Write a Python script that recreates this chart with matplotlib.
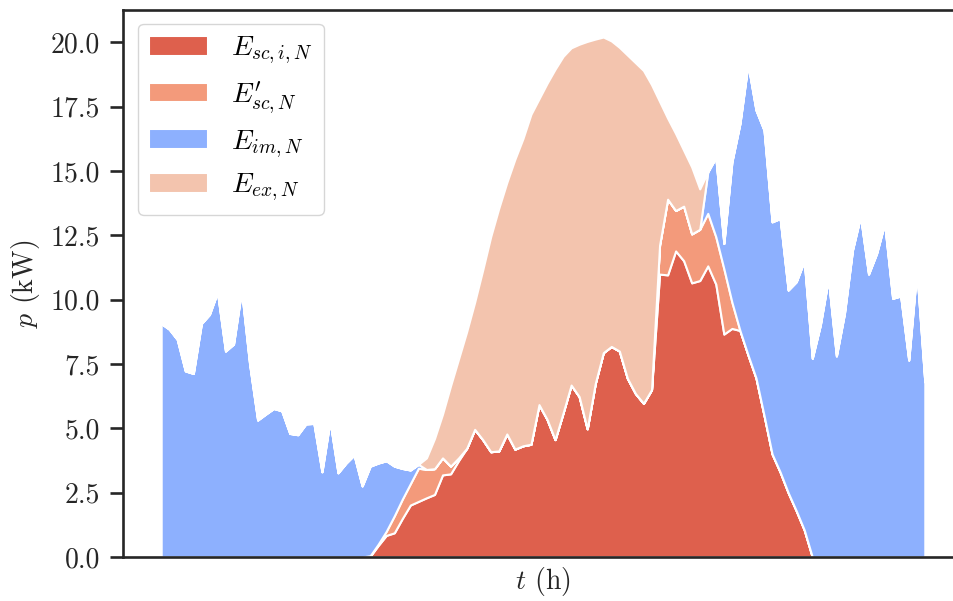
import numpy as np
import matplotlib
matplotlib.use("Agg")
import matplotlib.pyplot as plt
from matplotlib.ticker import FormatStrFormatter, MultipleLocator

plt.rcParams.update({
    "font.family": "serif",
    "font.serif": ["cmr10"],
    "mathtext.fontset": "cm",
    "axes.formatter.use_mathtext": True,
    "axes.unicode_minus": False,
})

# 15-minute resolution over one day
t = np.arange(96) * 0.25

# household load (kW)
load = [
    9.07, 8.85, 8.45, 7.23, 7.13, 9.07, 9.42, 10.29, 8.00, 8.27,
    10.36, 7.50, 5.32, 5.55, 5.77, 5.68, 4.80, 4.75, 5.17, 5.19,
    3.31, 5.29, 3.27, 3.65, 3.96, 2.76, 3.53, 3.65, 3.74, 3.53,
    3.44, 3.38, 3.60, 3.40, 3.43, 3.85, 3.53, 3.85, 4.22, 4.96,
    4.56, 4.09, 4.12, 4.78, 4.19, 4.32, 4.38, 5.92, 5.35, 4.56,
    5.60, 6.68, 6.23, 4.98, 6.74, 7.94, 8.18, 8.00, 6.94, 6.35,
    5.97, 6.50, 12.11, 13.90, 13.46, 13.63, 12.55, 12.73, 14.96, 15.52,
    12.18, 15.35, 16.84, 19.15, 17.36, 16.58, 13.02, 13.15, 10.37, 10.69,
    11.51, 7.72, 9.01, 10.82, 7.81, 9.46, 11.92, 13.24, 10.99, 11.79,
    12.96, 10.05, 10.14, 7.65, 11.15, 6.80,
]

# PV generation (kW)
pv = [
    0.0, 0.0, 0.0, 0.0, 0.0, 0.0, 0.0, 0.0, 0.0, 0.0,
    0.0, 0.0, 0.0, 0.0, 0.0, 0.0, 0.0, 0.0, 0.0, 0.0,
    0.0, 0.0, 0.0, 0.0, 0.0, 0.0, 0.05, 0.50, 1.00, 1.60,
    2.25, 2.85, 3.45, 3.85, 4.60, 5.55, 6.65, 7.70, 8.75, 9.90,
    11.15, 12.45, 13.55, 14.55, 15.45, 16.25, 17.20, 17.80, 18.40, 18.95,
    19.45, 19.78, 19.92, 20.03, 20.12, 20.20, 20.05, 19.80, 19.50, 19.20,
    18.90, 18.35, 17.70, 17.05, 16.45, 15.80, 15.15, 14.30, 13.35, 12.44,
    11.20, 9.90, 8.80, 7.85, 6.95, 5.50, 4.00, 3.30, 2.50, 1.80,
    1.05, 0.0, 0.0, 0.0, 0.0, 0.0, 0.0, 0.0, 0.0, 0.0,
    0.0, 0.0, 0.0, 0.0, 0.0, 0.0,
]

# individual self-consumption (kW)
sc_i = [
    0.0, 0.0, 0.0, 0.0, 0.0, 0.0, 0.0, 0.0, 0.0, 0.0,
    0.0, 0.0, 0.0, 0.0, 0.0, 0.0, 0.0, 0.0, 0.0, 0.0,
    0.0, 0.0, 0.0, 0.0, 0.0, 0.0, 0.03, 0.45, 0.84, 0.94,
    1.50, 2.02, 2.16, 2.30, 2.43, 3.19, 3.23, 3.75, 4.22, 4.96,
    4.56, 4.09, 4.12, 4.78, 4.19, 4.32, 4.38, 5.92, 5.35, 4.56,
    5.60, 6.68, 6.23, 4.98, 6.74, 7.94, 8.18, 8.00, 6.94, 6.35,
    5.97, 6.50, 10.99, 10.96, 11.89, 11.51, 10.65, 10.74, 11.31, 10.60,
    8.66, 8.88, 8.80, 7.85, 6.95, 5.50, 4.00, 3.30, 2.50, 1.80,
    1.05, 0.0, 0.0, 0.0, 0.0, 0.0, 0.0, 0.0, 0.0, 0.0,
    0.0, 0.0, 0.0, 0.0, 0.0, 0.0,
]

labels = [r"$E_{sc,i,N}$", r"$E^{\prime}_{sc,N}$", r"$E_{im,N}$", r"$E_{ex,N}$"]
colors = ["#DE604D", "#F39A7B", "#8DB0FE", "#F3C4AE"]

load_a = np.array(load)
pv_a = np.array(pv)
sc_i_a = np.array(sc_i)
sc_total = np.minimum(load_a, pv_a)
sc_prime = sc_total - sc_i_a
e_im = load_a - sc_total
e_ex = pv_a - sc_total

fig = plt.figure(figsize=(9.54, 6.01), dpi=100)
ax = fig.add_axes([123 / 954, 1 - 557 / 601, (963 - 123) / 954, (557 - 10) / 601])

ax.stackplot(t, sc_i_a, sc_prime, e_im, e_ex, labels=labels, colors=colors,
             edgecolor="white", linewidth=1.5)

ax.set_xlim(t[0] - 0.05 * (t[-1] - t[0]), t[-1] + 0.05 * (t[-1] - t[0]))
ax.set_ylim(0, 21.25)
ax.set_xticks([])
ax.yaxis.set_major_locator(MultipleLocator(2.5))
ax.yaxis.set_major_formatter(FormatStrFormatter("%.1f"))

dark = "#262626"
for side in ["left", "bottom", "top"]:
    ax.spines[side].set_color(dark)
    ax.spines[side].set_linewidth(1.9)
ax.spines["right"].set_visible(False)
ax.tick_params(axis="y", length=9.5, width=1.9, color=dark, labelcolor=dark,
               labelsize=20, pad=7)

ax.set_xlabel(r"$t$ (h)", fontsize=20, color=dark, labelpad=6)
ax.set_ylabel(r"$p$ (kW)", fontsize=20, color=dark, labelpad=6)

leg = ax.legend(loc="upper left", bbox_to_anchor=(0.018, 0.975), borderaxespad=0,
                fontsize=20, frameon=True, fancybox=True, handlelength=2.1,
                handletextpad=0.85, labelspacing=0.45)
leg.get_frame().set_edgecolor("0.8")

fig.savefig("out.png", dpi=100)
